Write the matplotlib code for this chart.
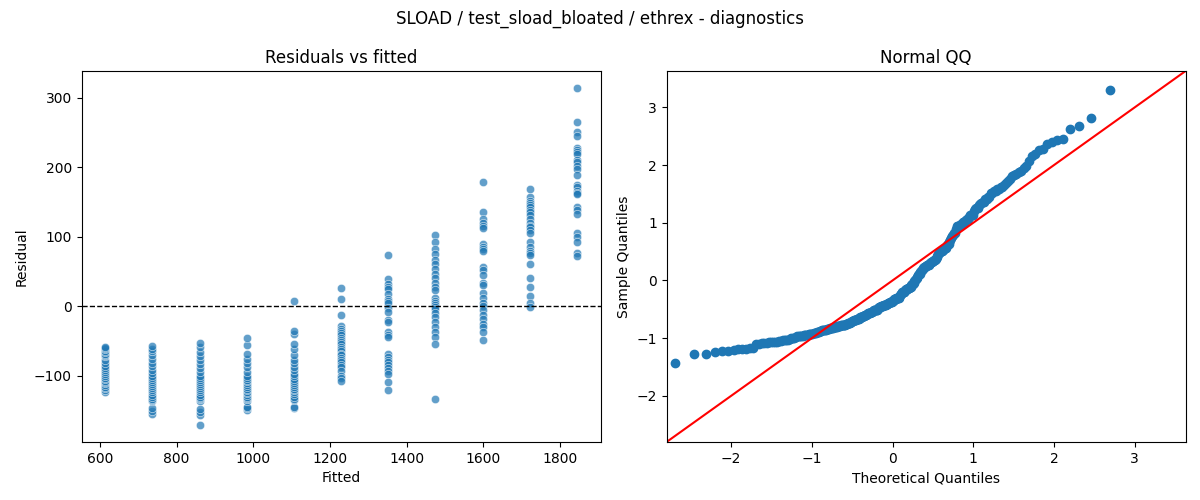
from statistics import NormalDist

import numpy as np
import matplotlib
matplotlib.use("Agg")
import matplotlib.pyplot as plt
import seaborn as sns

TITLE = "SLOAD / test_sload_bloated / ethrex - diagnostics"

# fitted value of each group (x positions of the columns)
fitted_levels = [614, 737, 860, 983, 1106, 1229, 1352, 1475, 1598, 1721, 1844]

# residuals, one list per fitted level
r614 = [-123, -121, -118, -116, -113, -111, -109, -107, -105, -103, -101, -98, -95,
        -92, -89, -86, -82, -78, -72, -70, -68, -66, -64, -62, -60, -58]
r737 = [-155, -150, -146, -137, -135, -133, -130, -127, -124, -121, -118, -115, -112,
        -109, -106, -103, -100, -96, -91, -86, -81, -76, -70, -65, -61, -57]
r860 = [-171, -156, -152, -148, -137, -134, -132, -130, -127, -124, -121, -118, -115,
        -112, -109, -106, -103, -100, -95, -89, -83, -77, -72, -66, -59, -53]
r983 = [-149, -147, -145, -136, -134, -132, -130, -128, -125, -123, -120, -119, -116,
        -113, -110, -108, -106, -103, -100, -94, -88, -82, -76, -68, -56, -45]
r1106 = [-147, -145, -135, -133, -130, -126, -123, -121, -119, -116, -113, -110, -107,
         -104, -101, -97, -92, -87, -82, -77, -70, -62, -55, -40, -36, 7]
r1229 = [26, 10, -13, -29, -33, -36, -39, -42, -45, -48, -51, -55, -58,
         -62, -65, -68, -70, -74, -77, -80, -84, -87, -93, -100, -103, -108]
r1352 = [73, 39, 32, 28, 25, 18, 11, 8, 4, -3, -8, -20, -22,
         -37, -42, -44, -68, -73, -77, -80, -85, -89, -93, -97, -109, -120]
r1475 = [103, 92, 82, 75, 67, 60, 54, 47, 40, 33, 28, 23, 12,
         8, 4, 2, -1, -4, -10, -15, -23, -30, -37, -44, -55, -133]
r1598 = [179, 135, 125, 120, 115, 112, 89, 85, 83, 80, 56, 52, 45,
         33, 30, 19, 12, 5, 1, -5, -13, -18, -25, -30, -37, -49]
r1721 = [169, 157, 152, 149, 145, 142, 138, 135, 131, 125, 120, 116, 114,
         110, 105, 92, 85, 80, 76, 73, 61, 40, 28, 14, 4, -1]
r1844 = [314, 265, 251, 245, 228, 225, 222, 219, 210, 207, 201, 198, 188,
         175, 171, 166, 163, 161, 142, 139, 132, 105, 100, 92, 76, 72]

groups = [r614, r737, r860, r983, r1106, r1229, r1352, r1475, r1598, r1721, r1844]

fitted = np.concatenate([[f] * len(g) for f, g in zip(fitted_levels, groups)])
resid = np.concatenate(groups).astype(float)

# QQ: standardised residuals against normal quantiles, positions i/(n+1)
n = len(resid)
sample_q = np.sort((resid - resid.mean()) / resid.std())
theo_q = np.array([NormalDist().inv_cdf(i / (n + 1)) for i in range(1, n + 1)])

fig, (ax1, ax2) = plt.subplots(1, 2, figsize=(12, 5), dpi=100)
fig.subplots_adjust(left=0.068, right=0.988, top=0.858, bottom=0.116, wspace=0.127)

sns.scatterplot(x=fitted, y=resid, ax=ax1, alpha=0.7)
ax1.axhline(0, color="black", linestyle="--", linewidth=1)
ax1.set_title("Residuals vs fitted")
ax1.set_xlabel("Fitted")
ax1.set_ylabel("Residual")

ax2.plot(theo_q, sample_q, "o", color="#1f77b4", markersize=6)
ax2.axline((0, 0), slope=1, color="red")
ax2.set_xlim(-2.8, 3.63)
ax2.set_ylim(-2.8, 3.63)
ax2.set_title("Normal QQ")
ax2.set_xlabel("Theoretical Quantiles")
ax2.set_ylabel("Sample Quantiles")

fig.suptitle(TITLE)
plt.savefig("out.png", dpi=100)
